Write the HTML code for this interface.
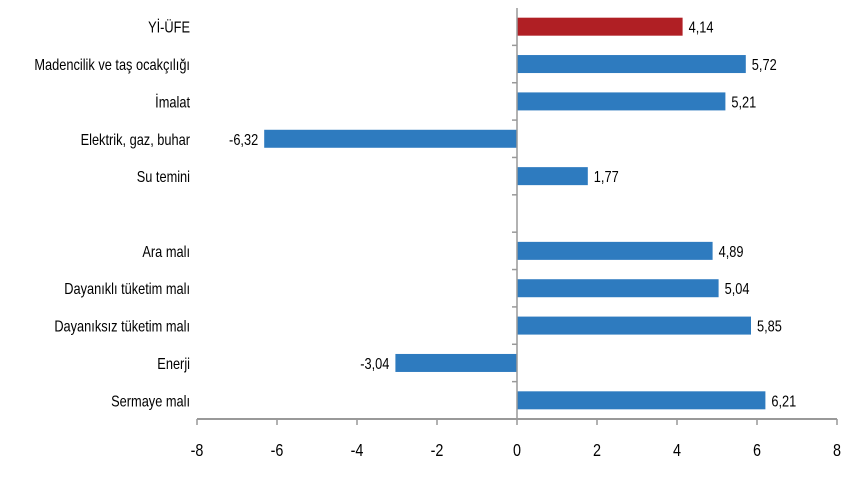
<!DOCTYPE html>
<html><head><meta charset="utf-8"><style>
body{margin:0;background:#fff;}
svg{display:block;font-family:"Liberation Sans",sans-serif;}
</style></head><body>
<svg id="chart" width="850" height="480"></svg>
<script>
const categories=["Yİ-ÜFE","Madencilik ve taş ocakçılığı","İmalat","Elektrik, gaz, buhar","Su temini","","Ara malı","Dayanıklı tüketim malı","Dayanıksız tüketim malı","Enerji","Sermaye malı"];
const values=[4.14,5.72,5.21,-6.32,1.77,null,4.89,5.04,5.85,-3.04,6.21];
const labels=["4,14","5,72","5,21","-6,32","1,77","","4,89","5,04","5,85","-3,04","6,21"];
const ticks=[-8,-6,-4,-2,0,2,4,6,8];
const NS="http://www.w3.org/2000/svg";
const svg=document.getElementById("chart");
const plotTop=8,plotBottom=419,xmin=-8,xmax=8,plotLeft=197,plotRight=837;
const x=v=>plotLeft+(v-xmin)/(xmax-xmin)*(plotRight-plotLeft);
const rowH=(plotBottom-plotTop)/categories.length;
const yc=i=>plotTop+rowH*(i+0.5);
function mk(t,a){const e=document.createElementNS(NS,t);for(const k in a)e.setAttribute(k,a[k]);svg.appendChild(e);return e;}
function txt(s,px,py,anchor,size){const e=mk("text",{transform:`translate(${px},${py}) scale(0.8,1)`,"text-anchor":anchor,"font-size":size,fill:"#000"});e.textContent=s;return e;}
categories.forEach((c,i)=>{
  const v=values[i];
  if(v!==null){
    const b=mk("rect",{x:Math.min(x(0),x(v)),y:yc(i)-9,width:Math.abs(x(v)-x(0)),height:18,fill:i===0?"#b01f24":"#2e7bbf"});
    
    
    const l=txt(labels[i],v>=0?x(v)+6:x(v)-6,yc(i)+6,v>=0?"start":"end",16);
    
    
  }
  if(c){const t=txt(c,190,yc(i)+6,"end",16);
    
    }
  const tk=mk("line",{x1:x(0)-5,x2:x(0),y1:plotTop+rowH*(i+1),y2:plotTop+rowH*(i+1),stroke:"#999","stroke-width":1.5});
  
  
});
const va=mk("line",{x1:x(0),x2:x(0),y1:plotTop,y2:plotBottom,stroke:"#999","stroke-width":1.5});


const ha=mk("line",{x1:plotLeft,x2:plotRight,y1:plotBottom,y2:plotBottom,stroke:"#999","stroke-width":2});


ticks.forEach(t=>{
  const l=mk("line",{x1:x(t),x2:x(t),y1:plotBottom,y2:plotBottom+6,stroke:"#999","stroke-width":1.5});
  
  
  const tl=txt(String(t),x(t),plotBottom+37,"middle",18);
  
  
});
</script>
</body></html>
